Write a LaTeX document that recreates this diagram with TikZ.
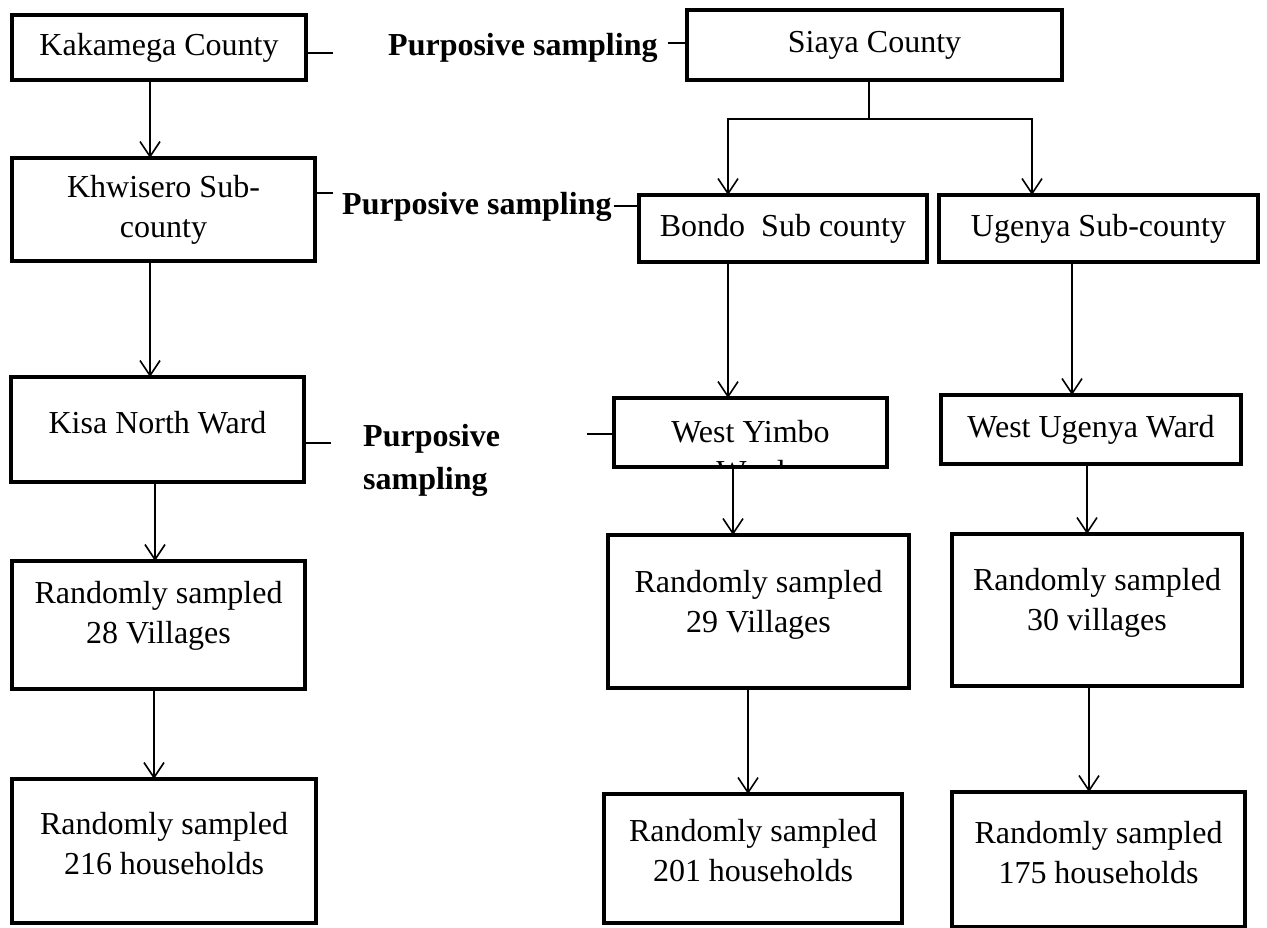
\documentclass[tikz,border=0pt]{standalone}
\usepackage{fontspec}
\setmainfont{Liberation Serif}
\usepackage{tikz}
\usetikzlibrary{arrows.meta}

\begin{document}
\begin{tikzpicture}[x=1pt, y=-1pt, >={Straight Barb[length=15pt,width=20pt]}]
\tikzstyle{block} = [draw, rectangle, line width=4pt, inner sep=0pt, outer sep=0pt, anchor=north west]
\tikzstyle{txt} = [align=center, inner sep=0pt, font=\fontsize{32}{40}\selectfont]
\tikzstyle{method} = [align=left, inner sep=0pt, anchor=west, font=\fontsize{32}{43}\selectfont\bfseries]
\tikzstyle{line} = [line width=1.6pt]
\tikzstyle{tick} = [line width=2pt]

\useasboundingbox (0,0) rectangle (1267,928);

% Kakamega column
\node [block, txt, minimum width=294pt, minimum height=65pt] (kak) at (12,15) {Kakamega County};
\node [block, txt, minimum width=303pt, minimum height=103pt] (khw) at (12,158) {Khwisero Sub-\\county};
\node [block, minimum width=293pt, minimum height=105pt] (kisa) at (11,377) {};
\node [txt] (kisatxt) at ([yshift=6.5pt]kisa.center) {Kisa North Ward};
\node [block, minimum width=293pt, minimum height=128pt] (vil28) at (12,561) {};
\node [txt] (vil28txt) at ([yshift=9pt]vil28.center) {Randomly sampled\\28 Villages};
\node [block, minimum width=304pt, minimum height=144pt] (hh216) at (12,779) {};
\node [txt] (hh216txt) at ([yshift=7pt]hh216.center) {Randomly sampled\\216 households};

% Siaya columns
\node [block, txt, minimum width=375pt, minimum height=70pt] (siaya) at (687,10) {Siaya County};
\node [block, txt, minimum width=288pt, minimum height=67pt] (bondo) at (639,195) {Bondo\ \ Sub county};
\node [block, txt, minimum width=319pt, minimum height=67pt] (ugenya) at (939,195) {Ugenya Sub-county};
\node [block, minimum width=273pt, minimum height=69pt] (wyimbo) at (614,398) {};
\begin{scope}
\clip ([xshift=2pt,yshift=-2pt]wyimbo.north west) rectangle ([xshift=-2pt,yshift=2pt]wyimbo.south east);
\node [txt] (wyimbotxt) at ([yshift=-19.5pt]wyimbo.center) {West Yimbo\\Ward};
\end{scope}
\node [block, txt, minimum width=300pt, minimum height=69pt] (wugenya) at (941,395) {West Ugenya Ward};
\node [block, minimum width=301pt, minimum height=153pt] (vil29) at (608,535) {};
\node [txt] (vil29txt) at ([yshift=6.5pt]vil29.center) {Randomly sampled\\29 Villages};
\node [block, minimum width=290pt, minimum height=152pt] (vil30) at (952,534) {};
\node [txt] (vil30txt) at ([yshift=7pt]vil30.center) {Randomly sampled\\30 villages};
\node [block, minimum width=298pt, minimum height=129pt] (hh201) at (604,794) {};
\node [txt] (hh201txt) at ([yshift=7.5pt]hh201.center) {Randomly sampled\\201 households};
\node [block, minimum width=293pt, minimum height=135pt] (hh175) at (952,792) {};
\node [txt] (hh175txt) at ([yshift=6.5pt]hh175.center) {Randomly sampled\\175 households};

% sampling labels
\node [method] (ps1) at (388,47.5) {Purposive sampling};
\node [method] (ps2) at (342,206.5) {Purposive sampling};
\node [method] (ps3) at (363,460) {Purposive\\sampling};

\draw [tick] ([yshift=-5.5pt]kak.east) -- ++(27,0);
\draw [tick] ([xshift=10pt,yshift=4.5pt]ps1.east) -- ([yshift=2pt]siaya.west);
\draw [tick] ([yshift=16.5pt]khw.east) -- ++(18,0);
\draw [tick] ([xshift=2pt,yshift=0.5pt]ps2.east) -- ([yshift=22.5pt]bondo.west);
\draw [tick] ([yshift=-13.5pt]kisa.east) -- ++(27,0);
\draw [tick] ([yshift=-1.5pt]wyimbo.west) -- ++(-27,0);

% arrows down the columns
\draw [line, ->] ([xshift=-9pt]kak.south) -- ([xshift=-9pt]kak.south |- khw.north);
\draw [line, ->] ([xshift=-13.5pt]khw.south) -- ([xshift=-13.5pt]khw.south |- kisa.north);
\draw [line, ->] ([xshift=-2.5pt]kisa.south) -- ([xshift=-2.5pt]kisa.south |- vil28.north);
\draw [line, ->] ([xshift=-4.5pt]vil28.south) -- ([xshift=-4.5pt]vil28.south |- hh216.north);

\coordinate (split) at ([xshift=-5.5pt,yshift=-39pt]siaya.south);
\draw [line] (siaya.south -| split) -- (split);
\draw [line, ->] (split) -| ([xshift=-55pt]bondo.north);
\draw [line, ->] (split) -| ([xshift=-66.5pt]ugenya.north);

\draw [line, ->] ([xshift=-55pt]bondo.south) -- ([xshift=-55pt]bondo.south |- wyimbo.north);
\draw [line, ->] ([xshift=-26.5pt]ugenya.south) -- ([xshift=-26.5pt]ugenya.south |- wugenya.north);
\draw [line, ->] ([xshift=-17.5pt]wyimbo.south) -- ([xshift=-17.5pt]wyimbo.south |- vil29.north);
\draw [line, ->] ([xshift=-4pt]wugenya.south) -- ([xshift=-4pt]wugenya.south |- vil30.north);
\draw [line, ->] ([xshift=-10.5pt]vil29.south) -- ([xshift=-10.5pt]vil29.south |- hh201.north);
\draw [line, ->] ([xshift=-8pt]vil30.south) -- ([xshift=-8pt]vil30.south |- hh175.north);

\end{tikzpicture}
\end{document}
